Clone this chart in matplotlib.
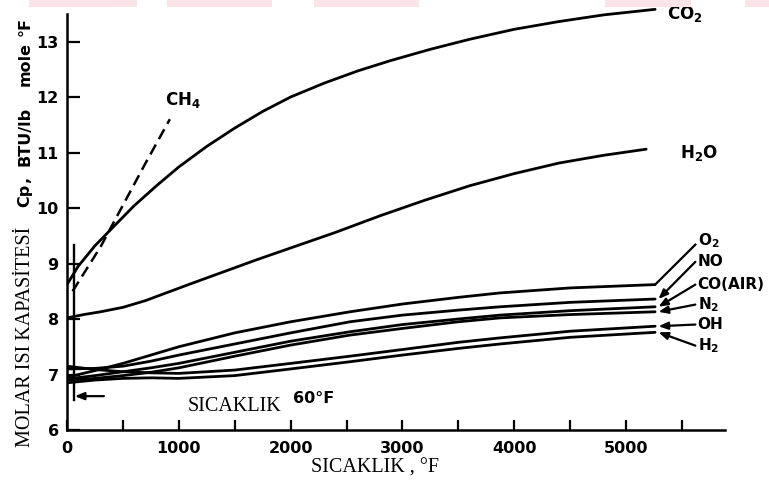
import matplotlib
matplotlib.use("Agg")
import matplotlib.pyplot as plt
from matplotlib.patches import Rectangle

plt.rcParams["font.family"] = "DejaVu Sans"
plt.rcParams["mathtext.fontset"] = "custom"
plt.rcParams["mathtext.rm"] = "DejaVu Sans:bold"
plt.rcParams["mathtext.it"] = "DejaVu Sans:bold"
plt.rcParams["mathtext.bf"] = "DejaVu Sans:bold"

# sicaklik (F) ve molar isi kapasitesi Cp (BTU/lb mole F)
co2_t = [0, 100, 250, 400, 600, 800, 1000, 1250, 1500, 1750, 2000, 2300, 2600,
         2900, 3250, 3600, 4000, 4400, 4800, 5260]
co2_cp = [8.62, 8.95, 9.32, 9.63, 10.04, 10.4, 10.74, 11.11, 11.44, 11.74, 12.0,
          12.25, 12.47, 12.66, 12.86, 13.04, 13.22, 13.36, 13.48, 13.58]

h2o_t = [0, 150, 300, 500, 700, 900, 1100, 1400, 1700, 2000, 2400, 2800, 3200,
         3600, 4000, 4400, 4800, 5180]
h2o_cp = [8.02, 8.08, 8.13, 8.21, 8.33, 8.48, 8.63, 8.85, 9.07, 9.28, 9.56, 9.86,
          10.14, 10.4, 10.62, 10.81, 10.95, 11.06]

ch4_t = [50, 300, 500, 700, 920]
ch4_cp = [8.5, 9.3, 10.05, 10.8, 11.6]

low_t = [0, 250, 500, 750, 1000, 1500, 2000, 2531, 3000, 3500, 3873, 4500, 5260]
o2_cp = [6.95, 7.07, 7.2, 7.35, 7.5, 7.75, 7.95, 8.13, 8.27, 8.39, 8.47, 8.56, 8.62]
no_cp = [7.1, 7.11, 7.15, 7.24, 7.35, 7.55, 7.75, 7.95, 8.07, 8.16, 8.22, 8.3, 8.36]
co_cp = [6.92, 6.98, 7.05, 7.12, 7.2, 7.4, 7.6, 7.77, 7.9, 8.0, 8.07, 8.15, 8.22]
n2_cp = [6.9, 6.93, 6.98, 7.04, 7.12, 7.33, 7.53, 7.71, 7.83, 7.95, 8.02, 8.08, 8.13]
oh_cp = [7.15, 7.09, 7.05, 7.03, 7.02, 7.08, 7.2, 7.33, 7.45, 7.58, 7.66, 7.78, 7.87]
h2_cp = [6.85, 6.9, 6.93, 6.94, 6.93, 6.98, 7.1, 7.23, 7.35, 7.47, 7.55, 7.67, 7.76]

low_series = [o2_cp, no_cp, co_cp, n2_cp, oh_cp, h2_cp]
low_labels = ["O$_2$", "NO", "CO(AIR)", "N$_2$", "OH", "H$_2$"]
label_cp = [9.42, 9.03, 8.62, 8.26, 7.9, 7.52]

ref_t = 60

fig = plt.figure(figsize=(7.69, 4.91), dpi=100)
ax = fig.add_axes([67 / 769, 61 / 491, 658 / 769, 422 / 491])
ax.set_xlim(0, 5885)
ax.set_ylim(6, 13.604)

lw = 2.0
kw = dict(color="black", lw=lw, solid_capstyle="round", solid_joinstyle="round")
ax.plot(co2_t, co2_cp, **kw)
ax.plot(h2o_t, h2o_cp, **kw)
ax.plot(ch4_t, ch4_cp, color="black", lw=1.8, dashes=(4.5, 2.5))
for cp in low_series:
    ax.plot(low_t, cp, **kw)

ax.text(5367, 13.5, "CO$_2$", fontsize=12, weight="bold", va="center")
ax.text(5483, 11.0, "H$_2$O", fontsize=12, weight="bold", va="center")
ax.text(877, 11.95, "CH$_4$", fontsize=12, weight="bold", va="center")

# etiketlerden egri uclarina oklar
for i, (cp, lab, ly) in enumerate(zip(low_series, low_labels, label_cp)):
    ax.text(5640, ly, lab, fontsize=11, weight="bold", va="center", ha="left")
    if i == 0:
        ax.plot([low_t[-1], 5620], [cp[-1], ly - 0.08], color="black", lw=1.6)
    else:
        ax.annotate("", xy=(low_t[-1] + 30, cp[-1]), xytext=(5620, ly),
                    arrowprops=dict(arrowstyle="-|>,head_length=0.55,head_width=0.22",
                                    color="black", lw=1.6, shrinkA=0, shrinkB=0))

# 60 F referans cizgisi
ax.plot([ref_t, ref_t], [6.54, 9.33], color="black", lw=1.7)
ax.annotate("", xy=(ref_t + 10, 6.61), xytext=(330, 6.61),
            arrowprops=dict(arrowstyle="-|>,head_length=0.55,head_width=0.22",
                            color="black", lw=1.6, shrinkA=0, shrinkB=0))
ax.text(1080, 6.42, "SICAKLIK", family="Liberation Serif", fontsize=14.5, va="center")
ax.text(2020, 6.56, "60°F", fontsize=11.5, weight="bold", va="center")

for s in ["top", "right"]:
    ax.spines[s].set_visible(False)
ax.spines["left"].set_linewidth(1.8)
ax.spines["bottom"].set_linewidth(1.8)
ax.spines["left"].set_bounds(6, 13.5)

ax.set_xticks(range(0, 6000, 1000))
ax.set_xticks(range(500, 6000, 1000), minor=True)
ax.set_yticks(range(6, 14))
ax.tick_params(axis="both", which="both", direction="in", width=1.6, labelsize=11.5)
ax.tick_params(axis="x", which="both", length=7, pad=8)
ax.tick_params(axis="y", length=9, pad=6)
for t in ax.get_xticklabels() + ax.get_yticklabels():
    t.set_fontweight("bold")

# eksen basliklari
fig.text(375 / 769, 1 - 468 / 491, "SICAKLIK , °F", family="Liberation Serif",
         fontsize=14.5, ha="center", va="center")
fig.text(26 / 769, 1 - 447 / 491, "MOLAR ISI KAPASİTESİ", family="Liberation Serif",
         fontsize=14.5, rotation=90, ha="center", va="bottom")
# birim kismi: kelimeler ayri ayri, genis aralikli
for word, py in [("Cp", 207), (",", 183), ("BTU/lb", 166), ("mole", 86), ("°F", 36)]:
    fig.text(25 / 769, 1 - py / 491, word, fontsize=11.5, weight="bold", rotation=90,
             ha="center", va="bottom")

# ust kenardaki soluk pembe seritler
for x0, x1 in [(29, 137), (167, 272), (314, 419), (605, 691), (745, 769)]:
    fig.patches.append(Rectangle((x0 / 769, 1 - 7 / 491), (x1 - x0) / 769, 7 / 491,
                                 transform=fig.transFigure, color="#fbe4e7", lw=0))

fig.savefig("out.png", dpi=100)
